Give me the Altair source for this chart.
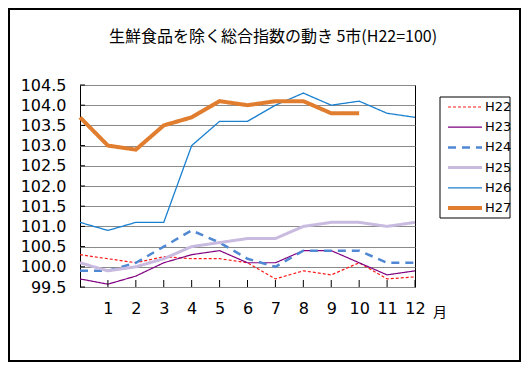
import altair as alt
import pandas as pd

CJK = "Noto Sans CJK JP"
NUM = "DejaVu Sans"

title_text = "生鮮食品を除く総合指数の動き 5市(H22=100)"
month_label = "月"

months = list(range(0, 13))
tick_months = list(range(1, 13))
y_ticks = [99.5, 100.0, 100.5, 101.0, 101.5, 102.0, 102.5, 103.0, 103.5, 104.0, 104.5]

series_names = ["H22", "H23", "H24", "H25", "H26", "H27"]
h22 = [100.3, 100.2, 100.1, 100.25, 100.2, 100.2, 100.1, 99.7, 99.9, 99.8, 100.1, 99.7, 99.75]
h23 = [99.7, 99.57, 99.77, 100.1, 100.3, 100.4, 100.1, 100.1, 100.4, 100.4, 100.1, 99.8, 99.9]
h24 = [99.9, 99.9, 100.1, 100.5, 100.9, 100.6, 100.2, 100.0, 100.4, 100.4, 100.4, 100.1, 100.1]
h25 = [100.1, 99.9, 100.0, 100.2, 100.5, 100.6, 100.7, 100.7, 101.0, 101.1, 101.1, 101.0, 101.1]
h26 = [101.1, 100.9, 101.1, 101.1, 103.0, 103.6, 103.6, 104.0, 104.3, 104.0, 104.1, 103.8, 103.7]
h27 = [103.7, 103.0, 102.9, 103.5, 103.7, 104.1, 104.0, 104.1, 104.1, 103.8, 103.8]

colors = ["#ff1a1a", "#800080", "#5088d4", "#c9bbe0", "#1a80d0", "#e07d2e"]
widths = [1.2, 1.2, 2.5, 3.0, 1.3, 4.0]
dashes = [[3, 2], [1, 0], [8, 6], [1, 0], [1, 0], [1, 0]]

rows = []
for name, w, vals in zip(series_names, widths, [h22, h23, h24, h25, h26, h27]):
    for m, v in zip(months, vals):
        rows.append({"month": m, "value": v, "series": name, "w": w})
df = pd.DataFrame(rows)

legend_df = pd.DataFrame({
    "series": series_names,
    "idx": list(range(len(series_names))),
    "w": widths,
})

W, H = 335, 202

x_enc = alt.X(
    "month:Q",
    scale=alt.Scale(domain=[0, 12], nice=False, zero=False),
    axis=alt.Axis(values=tick_months, title=None, ticks=False, domain=False, grid=False,
                  labelFontSize=16, labelPadding=13, labelColor="black", labelFlush=False,
                  labelFont=NUM),
)
y_scale = alt.Scale(domain=[99.5, 104.5], nice=False, zero=False)
y_enc = alt.Y(
    "value:Q",
    scale=y_scale,
    axis=alt.Axis(values=y_ticks, format=".1f", title=None, ticks=False, domain=False,
                  grid=True, gridColor="#8a8a8a", gridWidth=1, labelFontSize=16,
                  labelPadding=14, labelColor="black", labelFlush=False, labelFont=NUM),
)

color_enc = alt.Color("series:N", scale=alt.Scale(domain=series_names, range=colors), legend=None)
dash_enc = alt.StrokeDash("series:N", scale=alt.Scale(domain=series_names, range=dashes), legend=None)
width_enc = alt.StrokeWidth("w:Q", scale=None)

lines = alt.Chart(df).mark_line().encode(
    x=x_enc, y=y_enc, color=color_enc, strokeDash=dash_enc, strokeWidth=width_enc,
)

xticks = alt.Chart(pd.DataFrame({"month": tick_months})).mark_rule(color="black", strokeWidth=1).encode(
    x=x_enc, y=alt.value(H - 7), y2=alt.value(H)
)
yticks = alt.Chart(pd.DataFrame({"value": y_ticks})).mark_rule(color="black", strokeWidth=1).encode(
    y=y_enc, x=alt.value(0), x2=alt.value(5)
)

title_mark = alt.Chart(pd.DataFrame({"t": [title_text]})).mark_text(
    font=CJK, fontSize=16, color="black", align="center", baseline="middle"
).encode(text="t:N", x=alt.value(193), y=alt.value(-48))

month_mark = alt.Chart(pd.DataFrame({"t": [month_label]})).mark_text(
    font=CJK, fontSize=14, color="black", align="center", baseline="middle"
).encode(text="t:N", x=alt.value(360), y=alt.value(26 + H))

border = alt.Chart(pd.DataFrame({"a": [0]})).mark_rect(
    fillOpacity=0, stroke="black", strokeWidth=2
).encode(x=alt.value(-71), x2=alt.value(440), y=alt.value(-76), y2=alt.value(276))

# legend (drawn from the series list)
leg_y = alt.Y("idx:Q", scale=alt.Scale(domain=[0, 5], range=[22, 123], nice=False, zero=False), axis=None)
leg_box = alt.Chart(pd.DataFrame({"a": [0]})).mark_rect(
    fill="white", stroke="black", strokeWidth=1
).encode(x=alt.value(360), x2=alt.value(430), y=alt.value(12), y2=alt.value(133))
leg_lines = alt.Chart(legend_df).mark_rule().encode(
    y=leg_y, x=alt.value(368), x2=alt.value(402),
    color=color_enc, strokeDash=dash_enc, strokeWidth=width_enc,
)
leg_text = alt.Chart(legend_df).mark_text(
    font=NUM, fontSize=13, color="black", align="left", baseline="middle"
).encode(y=leg_y, x=alt.value(405), text="series:N")

main = alt.layer(border, lines, xticks, yticks, title_mark, month_mark)
legend_layer = alt.layer(leg_box, leg_lines, leg_text)

chart = alt.layer(main, legend_layer).resolve_scale(y="independent").properties(
    width=W, height=H,
    autosize=alt.AutoSizeParams(type="none"),
    padding={"left": 72, "top": 77, "right": 106, "bottom": 75},
    background="white",
).configure_view(stroke="black", strokeWidth=1)

chart.save("out.html", embed_options={"renderer": "svg", "actions": False})
